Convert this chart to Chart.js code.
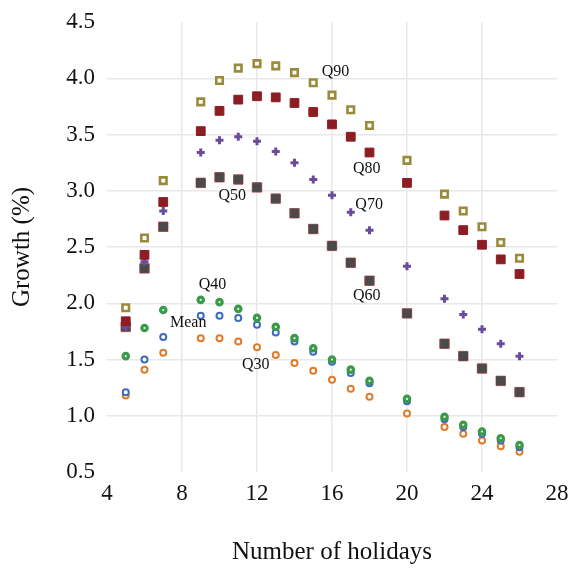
<!DOCTYPE html>
<html>
<head>
<meta charset="utf-8">
<script src="https://cdn.jsdelivr.net/npm/chart.js@4"></script>
<style>
html,body{margin:0;padding:0;background:#fff;}
#wrap{width:573px;height:571px;position:relative;}
</style>
</head>
<body>
<div id="wrap"><canvas id="c"></canvas></div>
<script>
const holidays = [5,6,7,9,10,11,12,13,14,15,16,17,18,20,22,23,24,25,26];
const q90  = [1.96,2.58,3.09,3.79,3.98,4.09,4.13,4.11,4.05,3.96,3.85,3.72,3.58,3.27,2.97,2.82,2.68,2.54,2.40];
const q80  = [1.84,2.43,2.90,3.53,3.71,3.81,3.84,3.83,3.78,3.70,3.59,3.48,3.34,3.07,2.78,2.65,2.52,2.39,2.26];
const q70  = [1.79,2.37,2.82,3.34,3.45,3.48,3.44,3.35,3.25,3.10,2.96,2.81,2.65,2.33,2.04,1.90,1.77,1.64,1.53];
const q60  = [1.79,2.31,2.68,3.07,3.12,3.10,3.03,2.93,2.80,2.66,2.51,2.36,2.20,1.91,1.64,1.53,1.42,1.31,1.21];
const q50  = [1.79,2.31,2.68,3.07,3.12,3.10,3.03,2.93,2.80,2.66,2.51,2.36,2.20,1.91,1.64,1.53,1.42,1.31,1.21];
const q40  = [1.53,1.78,1.94,2.03,2.01,1.95,1.87,1.79,1.69,1.60,1.50,1.41,1.31,1.15,0.99,0.92,0.86,0.80,0.74];
const mean = [1.21,1.50,1.70,1.89,1.89,1.87,1.81,1.74,1.66,1.57,1.48,1.38,1.29,1.13,0.97,0.90,0.84,0.78,0.72];
const q30  = [1.18,1.41,1.56,1.69,1.69,1.66,1.61,1.54,1.47,1.40,1.32,1.24,1.17,1.02,0.90,0.84,0.78,0.73,0.68];

const seriesNames = ['Q90','Q80','Q70','Q60','Q50','Q40','Mean','Q30'];
const labelX = [16.19, 17.85, 17.98, 17.85, 10.68, 9.63, 8.33, 11.93];
const labelY = [4.058, 3.199, 2.873, 2.067, 2.956, 2.162, 1.822, 1.451];

const xTicks = [4,8,12,16,20,24,28];
const yTicks = [0.5,1.0,1.5,2.0,2.5,3.0,3.5,4.0,4.5];

const pts = arr => holidays.map((x,i)=>({x:x,y:arr[i]}));

const FONT = "'Liberation Serif','Times New Roman',serif";

const labelPlugin = {
  id:'seriesLabels',
  afterDatasetsDraw(chart){
    const ctx = chart.ctx, xs = chart.scales.x, ys = chart.scales.y;
    ctx.save();
    ctx.font = "16px " + FONT;
    ctx.fillStyle = '#111';
    ctx.textAlign = 'center';
    ctx.textBaseline = 'middle';
    seriesNames.forEach((n,i)=>{
      ctx.fillText(n, xs.getPixelForValue(labelX[i]), ys.getPixelForValue(labelY[i]));
    });
    ctx.restore();
  }
};

const gridColor = (ctx) => {
  const n = ctx.scale.ticks.length;
  return (ctx.index === 0 || ctx.index === n-1) ? 'rgba(0,0,0,0)' : '#e8e8e8';
};

new Chart(document.getElementById('c'), {
  type:'scatter',
  data:{
    datasets:[
      {label:'Q90', data:pts(q90), pointStyle:'rect', radius:4.6, borderWidth:2.6, borderColor:'#998a3c', backgroundColor:'#ffffff', order:1},
      {label:'Q80', data:pts(q80), pointStyle:'rect', radius:6.2, borderWidth:1, borderColor:'#8c1d23', backgroundColor:'#8c1d23', order:2},
      {label:'Q70', data:pts(q70), pointStyle:'cross', radius:4, borderWidth:3, borderColor:'#6b4c9b', backgroundColor:'#6b4c9b', order:3},
      {label:'Q60', data:pts(q60), pointStyle:'rect', radius:6.7, borderWidth:1, borderColor:'rgba(215,40,40,0.75)', backgroundColor:'rgba(0,0,0,0)', order:5},
      {label:'Q50', data:pts(q50), pointStyle:'rect', radius:6.0, borderWidth:1, borderColor:'#4a4a4a', backgroundColor:'#4a4a4a', order:4},
      {label:'Q40', data:pts(q40), pointStyle:'circle', radius:2.7, borderWidth:3.2, borderColor:'#3b9a49', backgroundColor:'#e8f4ea', order:6},
      {label:'Mean', data:pts(mean), pointStyle:'circle', radius:3, borderWidth:2, borderColor:'#3a6cc0', backgroundColor:'#ffffff', order:7},
      {label:'Q30', data:pts(q30), pointStyle:'circle', radius:3, borderWidth:2, borderColor:'#e07b2b', backgroundColor:'#ffffff', order:8}
    ]
  },
  options:{
    responsive:true,
    maintainAspectRatio:false,
    animation:false,
    layout:{padding:{top:22,right:16,left:0,bottom:0}},
    plugins:{legend:{display:false}, tooltip:{enabled:false}},
    scales:{
      x:{
        type:'linear', min:4, max:28,
        afterBuildTicks: s => { s.ticks = xTicks.map(v=>({value:v})); },
        afterFit: s => { s.height = 99; s.paddingLeft = 0; s.paddingRight = 0; },
        border:{display:false},
        grid:{color:gridColor, lineWidth:1.5, drawTicks:false},
        ticks:{padding:8, color:'#111', font:{family:FONT, size:23}, maxRotation:0, callback:v=>String(v)},
        title:{display:true, text:'Number of holidays', color:'#111', font:{family:FONT, size:25}, padding:{top:0,bottom:4}}
      },
      y:{
        type:'linear', min:0.5, max:4.5,
        afterBuildTicks: s => { s.ticks = yTicks.map(v=>({value:v})); },
        afterFit: s => { s.width = 107; s.paddingTop = 0; s.paddingBottom = 0; },
        border:{display:false},
        grid:{color:gridColor, lineWidth:1.5, drawTicks:false},
        ticks:{padding:12, color:'#111', font:{family:FONT, size:23}, callback:v=>Number(v).toFixed(1)},
        title:{display:true, text:'Growth (%)', color:'#111', font:{family:FONT, size:25}, padding:{top:7,bottom:0}}
      }
    }
  },
  plugins:[labelPlugin]
});
</script>
</body>
</html>
